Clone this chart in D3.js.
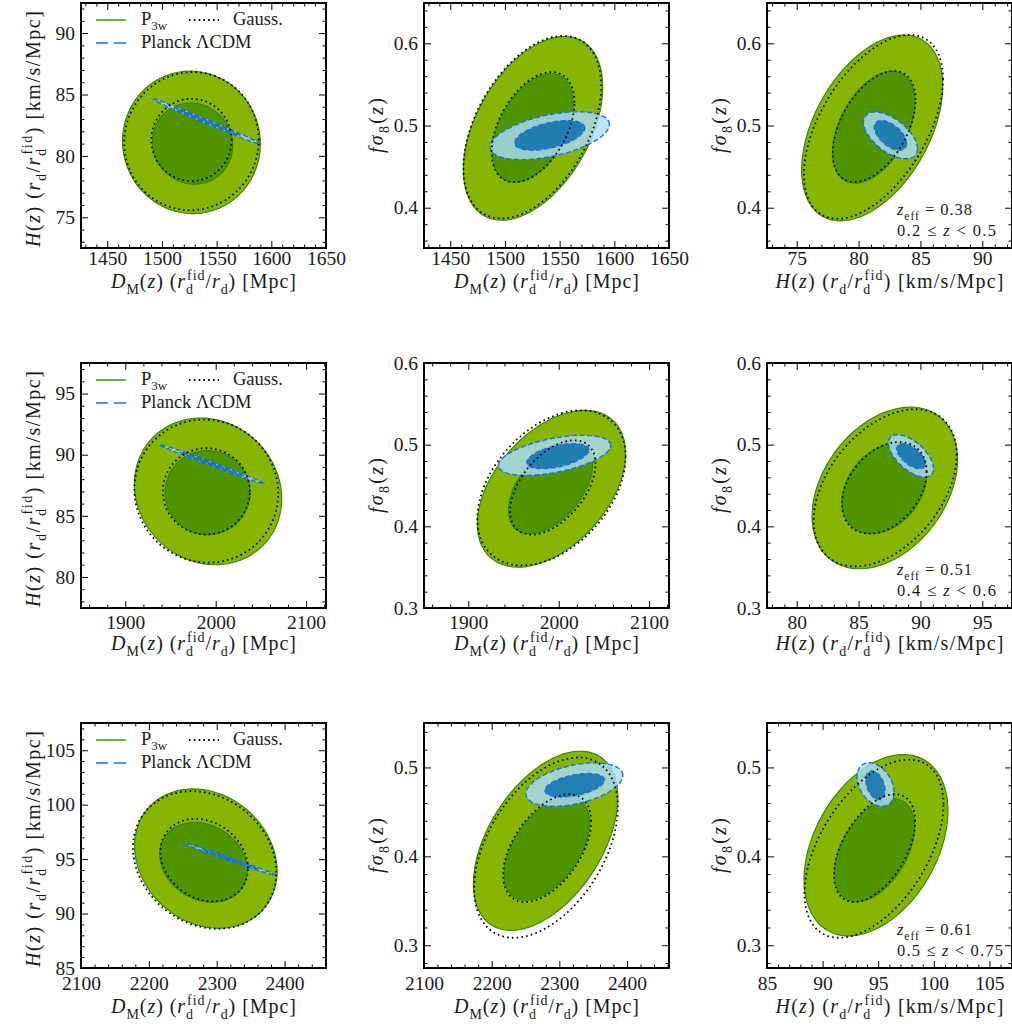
<!DOCTYPE html>
<html>
<head>
<meta charset="utf-8">
<script src="https://cdn.jsdelivr.net/npm/d3@7"></script>
<style>
  body { margin: 0; background: #fff; }
  svg { display: block; }
  text { font-family: "Liberation Serif", "DejaVu Serif", serif; fill: #1a1a1a; white-space: pre; }
</style>
</head>
<body>
<svg id="fig" width="1012" height="1026"></svg>
<script>
// ---------------------------------------------------------------
// Panel order: row by redshift bin, columns (D_M,H) (D_M,fσ8) (H,fσ8)
// ---------------------------------------------------------------
const xDomains = [
  [1426, 1650], [1426, 1650], [72.6, 92.4],
  [1851, 2122], [1851, 2122], [77.6, 97.4],
  [2100, 2461], [2100, 2462], [85, 107.03]
];
const yDomains = [
  [72.5, 92.45], [0.351, 0.649], [0.351, 0.649],
  [77.46, 97.5], [0.3, 0.6], [0.3, 0.6],
  [85, 107.5], [0.2744, 0.55], [0.2744, 0.55]
];
const xMajorTicks = [
  [1450, 1500, 1550, 1600, 1650], [1450, 1500, 1550, 1600, 1650], [75, 80, 85, 90],
  [1900, 2000, 2100], [1900, 2000, 2100], [80, 85, 90, 95],
  [2100, 2200, 2300, 2400], [2100, 2200, 2300, 2400], [85, 90, 95, 100, 105]
];
const yMajorTicks = [
  [75, 80, 85, 90], [0.4, 0.5, 0.6], [0.4, 0.5, 0.6],
  [80, 85, 90, 95], [0.3, 0.4, 0.5, 0.6], [0.3, 0.4, 0.5, 0.6],
  [85, 90, 95, 100, 105], [0.3, 0.4, 0.5], [0.3, 0.4, 0.5]
];
const xMinorStep = [10, 10, 1, 20, 20, 1, 20, 20, 1];
const yMinorStep = [1, 0.02, 0.02, 1, 0.02, 0.02, 1, 0.02, 0.02];

// Confidence regions: [centre x, centre y, half-extent x, half-extent y, correlation]
const p3wOuter = [
  [1527, 81.1, 63, 5.8, -0.02],
  [1525.7, 0.4965, 63.7, 0.1117, 0.45],
  [81.1, 0.497, 5.7, 0.113, 0.45],
  [1991.5, 87.0, 81.5, 6.0, -0.1],
  [1992, 0.446, 82, 0.096, 0.45],
  [87.12, 0.447, 5.88, 0.099, 0.35],
  [2284, 95.05, 105, 6.4, -0.18],
  [2279.7, 0.4175, 106.7, 0.1008, 0.48],
  [94.8, 0.4125, 6.47, 0.102, 0.38]
];
const p3wInner = [
  [1528, 81.0, 36.7, 3.3, -0.05],
  [1525.5, 0.497, 37, 0.066, 0.45],
  [81.22, 0.498, 3.32, 0.068, 0.45],
  [1991, 86.9, 47, 3.44, 0.0],
  [1991, 0.448, 46.7, 0.057, 0.5],
  [87.08, 0.4465, 3.42, 0.0555, 0.3],
  [2280.5, 94.7, 64.5, 3.66, -0.2],
  [2281.5, 0.4088, 63, 0.058, 0.5],
  [94.67, 0.407, 3.6, 0.058, 0.45]
];
const gaussOuter = [
  [1527, 81.2, 61.5, 5.62, 0.02],
  [1525, 0.498, 63, 0.111, 0.45],
  [81.2, 0.4984, 5.62, 0.1118, 0.52],
  [1989.6, 87.02, 79.6, 5.85, -0.03],
  [1992, 0.4471, 82, 0.0949, 0.4],
  [87.15, 0.4472, 5.78, 0.0962, 0.42],
  [2282.2, 94.92, 105.6, 6.32, -0.18],
  [2280.2, 0.4098, 106.2, 0.1014, 0.45],
  [94.62, 0.4086, 6.25, 0.1002, 0.5]
];
const gaussInner = [
  [1527, 81.3, 36.7, 3.35, 0.0],
  [1525.7, 0.498, 37.9, 0.067, 0.45],
  [81.26, 0.4988, 3.35, 0.0675, 0.48],
  [1989.6, 87.0, 48.1, 3.53, 0.0],
  [1993.5, 0.4476, 47.2, 0.0578, 0.5],
  [87.08, 0.4471, 3.42, 0.0561, 0.35],
  [2281.5, 94.91, 64.5, 3.79, -0.2],
  [2282, 0.4092, 65, 0.0606, 0.5],
  [94.67, 0.4092, 3.65, 0.0606, 0.5]
];
const planckOuter = [
  [1541.4, 82.78, 49, 1.83, -0.995],
  [1541, 0.4876, 54.5, 0.0291, 0.47],
  [82.58, 0.488, 2.18, 0.0285, -0.57],
  [1995.6, 89.24, 57.8, 1.6, -0.995],
  [1995.4, 0.4869, 62, 0.0245, 0.5],
  [89.24, 0.4863, 1.82, 0.0259, -0.6],
  [2320, 94.98, 67.8, 1.48, -0.995],
  [2322.2, 0.4807, 71.6, 0.0244, 0.42],
  [94.76, 0.4808, 1.66, 0.0245, -0.35]
];
const planckInner = [
  [1541.4, 82.78, 30, 1.12, -0.995],
  [1541, 0.488, 32, 0.018, 0.5],
  [82.58, 0.488, 1.3, 0.018, -0.55],
  [1995.6, 89.24, 35, 0.98, -0.995],
  [1999, 0.4859, 34.3, 0.0153, 0.5],
  [89.24, 0.4859, 1.15, 0.0153, -0.6],
  [2320, 94.98, 41, 0.9, -0.995],
  [2322.7, 0.48, 44, 0.0132, 0.45],
  [94.75, 0.4799, 0.86, 0.0161, -0.35]
];

// Redshift bins (one per row)
const zEff = ["0.38", "0.51", "0.61"];
const zRange = [["0.2", "0.5"], ["0.4", "0.6"], ["0.5", "0.75"]];

// ---------------------------------------------------------------
const S = 245;
const colX = [81, 424, 767];
const rowY = [3, 363, 723];
const tickPad = [3, 7, 8];       // gap between frame and x tick labels, per row
const xTitleGap = [40, 42, 45];  // baseline of x titles below the frame, per row
const C = {
  p3wOuter: "#85b500", p3wInner: "#509400", p3wEdge: "#338400",
  planckOuter: "#a9dcff", planckInner: "#0a70ac", planckEdge: "#1b6fe0",
  legendGreen: "#3c9a10"
};

// axis titles as [text, kind] runs
const DM_LABEL = [["D","i"],["M","sub"],["(","r"],["z","i"],[") (","r"],["r","i"],["d","sub"],["fid","over"],["/","r"],["r","i"],["d","sub"],[") [Mpc]","r"]];
const H_LABEL  = [["H","i"],["(","r"],["z","i"],[") (","r"],["r","i"],["d","sub"],["/","r"],["r","i"],["d","sub"],["fid","over"],[") [km/s/Mpc]","r"]];
const FS_LABEL = [["f","i"],["σ","i"],["8","sub"],["(","r"],["z","i"],[")","r"]];

function mathText(textSel, parts, fs) {
  let shift = 0;
  let prev = null;
  parts.forEach(([s, kind]) => {
    let target = 0, size = fs;
    if (kind === "sub") { target = 0.28 * fs; size = 0.7 * fs; }
    if (kind === "over") { target = -0.42 * fs; size = 0.7 * fs; }
    const ts = textSel.append("tspan").text(s)
      .attr("font-size", size)
      .attr("dy", target - shift);
    if (kind === "i") ts.attr("font-style", "italic");
    if (kind === "over" && prev) ts.attr("dx", -prev.node().getComputedTextLength());
    shift = target;
    prev = ts;
  });
  return textSel;
}

function ellipsePoints(e, n = 180) {
  const [cx, cy, hx, hy, r] = e;
  const s = Math.sqrt(1 - r * r);
  return d3.range(n).map(k => {
    const t = 2 * Math.PI * k / n;
    return [cx + hx * Math.cos(t), cy + hy * (r * Math.cos(t) + s * Math.sin(t))];
  });
}

function minorValues(dom, step, majors) {
  const lo = Math.min(dom[0], dom[1]), hi = Math.max(dom[0], dom[1]);
  const out = [];
  for (let k = Math.ceil(lo / step - 1e-9); k * step <= hi + 1e-9; k++) {
    const v = +(k * step).toFixed(6);
    if (!majors.some(m => Math.abs(m - v) < step * 1e-3)) out.push(v);
  }
  return out;
}

const fig = d3.select("#fig");
const defs = fig.append("defs");

for (let i = 0; i < 9; i++) {
  const row = Math.floor(i / 3), col = i % 3;
  const x0 = colX[col], y0 = rowY[row];
  const x = d3.scaleLinear().domain(xDomains[i]).range([0, S]);
  const y = d3.scaleLinear().domain(yDomains[i]).range([S, 0]);
  const line = d3.line().x(d => x(d[0])).y(d => y(d[1])).curve(d3.curveLinearClosed);

  defs.append("clipPath").attr("id", "clip" + i)
    .append("rect").attr("width", S).attr("height", S);

  const g = fig.append("g").attr("transform", `translate(${x0},${y0})`);
  const plot = g.append("g").attr("clip-path", `url(#clip${i})`);

  // P3w regions
  plot.append("path").attr("d", line(ellipsePoints(p3wOuter[i])))
    .attr("fill", C.p3wOuter).attr("stroke", C.p3wEdge).attr("stroke-width", 1.1);
  plot.append("path").attr("d", line(ellipsePoints(p3wInner[i])))
    .attr("fill", C.p3wInner).attr("stroke", C.p3wEdge).attr("stroke-width", 1.1);

  // Planck ΛCDM regions
  plot.append("path").attr("d", line(ellipsePoints(planckOuter[i])))
    .attr("fill", C.planckOuter).attr("fill-opacity", 0.8);
  plot.append("path").attr("d", line(ellipsePoints(planckInner[i])))
    .attr("fill", C.planckInner).attr("fill-opacity", 0.85);
  [planckOuter[i], planckInner[i]].forEach(e => {
    plot.append("path").attr("d", line(ellipsePoints(e)))
      .attr("fill", "none").attr("stroke", C.planckEdge).attr("stroke-width", 1.4)
      .attr("stroke-dasharray", "5,2.5");
  });

  // Gaussian approximation
  [gaussOuter[i], gaussInner[i]].forEach(e => {
    plot.append("path").attr("d", line(ellipsePoints(e)))
      .attr("fill", "none").attr("stroke", "#000").attr("stroke-width", 1.8)
      .attr("stroke-dasharray", "1.6,3.2");
  });

  // axes: major ticks with labels on bottom/left, bare ticks on top/right, minor ticks everywhere
  const fmt = d => String(d);
  const styleAxis = sel => {
    sel.select(".domain").remove();
    sel.selectAll(".tick line").attr("stroke", "#000").attr("stroke-width", 1);
    sel.selectAll("text").attr("font-family", "Liberation Serif").attr("font-size", 19.5).attr("fill", "#1a1a1a");
  };
  const xm = xMajorTicks[i], ym = yMajorTicks[i];
  const xn = minorValues(xDomains[i], xMinorStep[i], xm);
  const yn = minorValues(yDomains[i], yMinorStep[i], ym);

  g.append("g").attr("transform", `translate(0,${S})`)
    .call(d3.axisBottom(x).tickValues(xm).tickSize(-7).tickSizeOuter(0).tickPadding(tickPad[row]).tickFormat(fmt))
    .call(styleAxis);
  g.append("g")
    .call(d3.axisLeft(y).tickValues(ym).tickSize(-7).tickSizeOuter(0).tickPadding(6).tickFormat(fmt))
    .call(styleAxis);
  g.append("g")
    .call(d3.axisTop(x).tickValues(xm).tickSize(-7).tickSizeOuter(0).tickFormat(""))
    .call(styleAxis);
  g.append("g").attr("transform", `translate(${S},0)`)
    .call(d3.axisRight(y).tickValues(ym).tickSize(-7).tickSizeOuter(0).tickFormat(""))
    .call(styleAxis);
  g.append("g").attr("transform", `translate(0,${S})`)
    .call(d3.axisBottom(x).tickValues(xn).tickSize(-3.5).tickSizeOuter(0).tickFormat(""))
    .call(styleAxis);
  g.append("g")
    .call(d3.axisTop(x).tickValues(xn).tickSize(-3.5).tickSizeOuter(0).tickFormat(""))
    .call(styleAxis);
  g.append("g")
    .call(d3.axisLeft(y).tickValues(yn).tickSize(-3.5).tickSizeOuter(0).tickFormat(""))
    .call(styleAxis);
  g.append("g").attr("transform", `translate(${S},0)`)
    .call(d3.axisRight(y).tickValues(yn).tickSize(-3.5).tickSizeOuter(0).tickFormat(""))
    .call(styleAxis);

  // frame
  g.append("rect").attr("width", S).attr("height", S)
    .attr("fill", "none").attr("stroke", "#000").attr("stroke-width", 2);

  // axis titles
  const xLab = col === 2 ? H_LABEL : DM_LABEL;
  const xLen = col === 2 ? 228 : 185;
  mathText(g.append("text")
    .attr("x", S / 2).attr("y", S + xTitleGap[row])
    .attr("text-anchor", "middle").attr("font-size", 20)
    .attr("textLength", xLen).attr("lengthAdjust", "spacing"), xLab, 20);

  const yLab = col === 0 ? H_LABEL : FS_LABEL;
  const yLen = col === 0 ? 236 : 55;
  const yOff = col === 0 ? 3.5 : 0;
  mathText(g.append("text")
    .attr("transform", `translate(-41,${S / 2 + yOff}) rotate(-90)`)
    .attr("text-anchor", "middle").attr("font-size", 20)
    .attr("textLength", yLen).attr("lengthAdjust", "spacing"), yLab, 20);

  // legend in the first column
  if (col === 0) {
    const lg = g.append("g");
    lg.append("line").attr("x1", 15).attr("x2", 45).attr("y1", 17).attr("y2", 17)
      .attr("stroke", C.legendGreen).attr("stroke-width", 1.5);
    mathText(lg.append("text").attr("x", 60).attr("y", 22).attr("font-size", 18.5),
      [["P", "r"], ["3w", "sub"]], 18.5);
    lg.append("line").attr("x1", 108).attr("x2", 138).attr("y1", 17).attr("y2", 17)
      .attr("stroke", "#000").attr("stroke-width", 1.8).attr("stroke-dasharray", "1.6,3.2");
    lg.append("text").attr("x", 152).attr("y", 22).attr("font-size", 18.5).text("Gauss.");
    lg.append("line").attr("x1", 15).attr("x2", 45).attr("y1", 40).attr("y2", 40)
      .attr("stroke", C.planckEdge).attr("stroke-width", 1.5).attr("stroke-dasharray", "12,6");
    lg.append("text").attr("x", 60).attr("y", 45).attr("font-size", 18.5).text("Planck ΛCDM");
  }

  // redshift annotation in the last column
  if (col === 2) {
    mathText(g.append("text").attr("x", 130).attr("y", S - 33).attr("font-size", 16.5)
      .attr("textLength", 75).attr("lengthAdjust", "spacing"),
      [["z", "i"], ["eff", "sub"], [" = " + zEff[row], "r"]], 16.5);
    mathText(g.append("text").attr("x", 130).attr("y", S - 12).attr("font-size", 16.5)
      .attr("textLength", row === 2 ? 106 : 99).attr("lengthAdjust", "spacing"),
      [[zRange[row][0] + " ≤ ", "r"], ["z", "i"], [" < " + zRange[row][1], "r"]], 16.5);
  }
}
</script>
</body>
</html>
